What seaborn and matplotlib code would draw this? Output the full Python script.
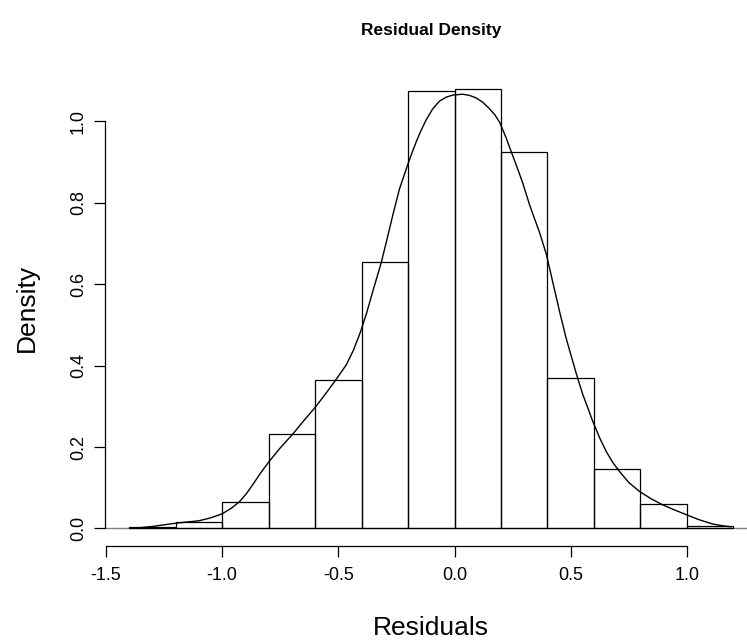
import numpy as np
import pandas as pd
import matplotlib
matplotlib.use("Agg")
import matplotlib.pyplot as plt
import seaborn as sns

# ---- data ----
bin_edges = [-1.4, -1.2, -1.0, -0.8, -0.6, -0.4, -0.2, 0.0, 0.2, 0.4, 0.6, 0.8, 1.0, 1.2]
bin_density = [0.003, 0.017, 0.066, 0.233, 0.364, 0.656, 1.076, 1.079, 0.924, 0.371, 0.145, 0.059, 0.007]

curve_x = [-1.37, -1.30, -1.20, -1.10, -1.05, -1.00, -0.96, -0.925, -0.895, -0.868, -0.835,
           -0.80, -0.75, -0.696, -0.65, -0.602, -0.56, -0.516, -0.466, -0.435, -0.404,
           -0.378, -0.352, -0.316, -0.290, -0.263, -0.237, -0.205, -0.185, -0.165, -0.145,
           -0.122, -0.095, -0.065, -0.035, -0.007, 0.036, 0.065, 0.093, 0.122, 0.151,
           0.174, 0.194, 0.222, 0.251, 0.274, 0.294, 0.323, 0.345, 0.366, 0.395, 0.416,
           0.435, 0.452, 0.480, 0.509, 0.531, 0.552, 0.575, 0.595, 0.625, 0.653, 0.680,
           0.710, 0.750, 0.796, 0.846, 0.896, 0.945, 0.997, 1.05, 1.111, 1.15, 1.19]
curve_y = [0.001, 0.005, 0.013, 0.019, 0.026, 0.036, 0.050, 0.066, 0.086, 0.108, 0.136,
           0.163, 0.198, 0.232, 0.264, 0.296, 0.327, 0.361, 0.402, 0.438, 0.484,
           0.530, 0.582, 0.652, 0.712, 0.776, 0.834, 0.888, 0.920, 0.950, 0.977,
           1.004, 1.030, 1.050, 1.060, 1.065, 1.067, 1.064, 1.058, 1.047, 1.031,
           1.016, 0.998, 0.960, 0.915, 0.880, 0.848, 0.795, 0.760, 0.727, 0.674, 0.622,
           0.575, 0.533, 0.468, 0.410, 0.367, 0.329, 0.294, 0.263, 0.222, 0.189, 0.163,
           0.140, 0.113, 0.091, 0.073, 0.058, 0.046, 0.034, 0.022, 0.011, 0.007, 0.004]

x_ticks = [-1.5, -1.0, -0.5, 0.0, 0.5, 1.0]
x_ticklabels = ["-1.5", "-1.0", "-0.5", "0.0", "0.5", "1.0"]
y_ticks = [0.0, 0.2, 0.4, 0.6, 0.8, 1.0]
y_ticklabels = ["0.0", "0.2", "0.4", "0.6", "0.8", "1.0"]

title = "Residual Density"
xlabel = "Residuals"
ylabel = "Density"

# ---- plotting ----
sns.set_style("white")
plt.rcParams["font.family"] = ["Liberation Sans", "DejaVu Sans"]
plt.rcParams["text.color"] = "black"

W, H = 747, 642
fig = plt.figure(figsize=(W / 100, H / 100), dpi=100)
ax = fig.add_axes([105 / W, 1 - 546 / H, (W - 105) / W, (546 - 70) / H])

centers = [(a + b) / 2 for a, b in zip(bin_edges[:-1], bin_edges[1:])]
hist_df = pd.DataFrame({"x": centers, "w": bin_density})
sns.histplot(data=hist_df, x="x", weights="w", bins=bin_edges, stat="count",
             fill=False, element="bars", color="black", linewidth=0.9, ax=ax)

ax.axhline(0, color="#808080", lw=1.0, zorder=0.5)

curve_df = pd.DataFrame({"x": curve_x, "y": curve_y})
sns.lineplot(data=curve_df, x="x", y="y", sort=False, color="black", lw=1.0, ax=ax)

ax.set_xlim(-1.504, -1.504 + (W - 105) / 232.4)
ax.set_ylim(-0.043, -0.043 + (546 - 70) / 407.0)

for s in ["top", "right"]:
    ax.spines[s].set_visible(False)
ax.spines["left"].set_bounds(0.0, 1.0)
ax.spines["bottom"].set_bounds(-1.5, 1.0)
for s in ["left", "bottom"]:
    ax.spines[s].set_color("black")
    ax.spines[s].set_linewidth(0.9)

ax.set_xticks(x_ticks)
ax.set_xticklabels(x_ticklabels)
ax.set_yticks(y_ticks)
ax.set_yticklabels(y_ticklabels, rotation=90, va="center")
ax.tick_params(axis="both", direction="out", length=8, width=0.9, color="black",
               labelsize=13, labelcolor="black", bottom=True, left=True)
ax.tick_params(axis="x", pad=7)
ax.tick_params(axis="y", pad=5)

ax.set_xlabel("")
ax.set_ylabel("")
fig.text(431 / W, 1 - 628 / H, xlabel, ha="center", va="center", fontsize=19, color="black")
fig.text(27 / W, 1 - 308 / H, ylabel, ha="center", va="center", fontsize=19, rotation=90, color="black")
fig.text(431 / W, 1 - 30 / H, title, ha="center", va="center", fontsize=12.5, fontweight="bold", color="black")

fig.savefig("out.png", dpi=100, facecolor="white")
